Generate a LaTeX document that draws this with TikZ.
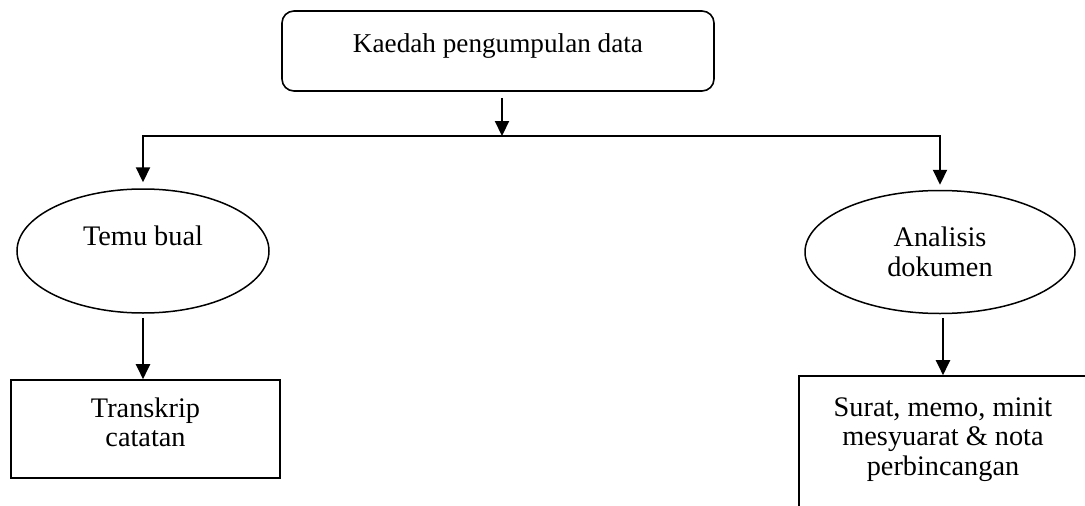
\documentclass[tikz,border=0pt]{standalone}
\usepackage{fontspec}
\setmainfont{Liberation Serif}
\usetikzlibrary{arrows.meta,shapes.geometric}
\tikzset{
  txt/.style={font=\fontsize{28.3}{29.5}\selectfont, text=black},
  topbox/.style={txt, draw, line width=1.6pt, rounded corners=12pt, minimum width=432pt, minimum height=80pt, inner sep=0pt, text height=19pt, text depth=17pt},
  oval/.style={txt, draw, ellipse, line width=1.5pt, inner sep=0pt, align=center},
  sqbox/.style={txt, draw, line width=1.6pt, inner sep=0pt},
  arr/.style={line width=2.2pt, -{Triangle[width=14pt,length=15pt]}},
}
\begin{document}
\begin{tikzpicture}[x=1pt,y=-1pt]
\useasboundingbox (0,0) rectangle (1085,506);
\clip (0,0) rectangle (1085,506);
\fill[white] (0,0) rectangle (1085,506);

\node[topbox] (top) at (498,51) {\fontsize{27.2}{29.5}\selectfont Kaedah pengumpulan data};
\coordinate (junction) at (502,136);

\node[oval, minimum width=252pt, minimum height=124pt, text height=18pt, text depth=30pt] (temu) at (143,251) {Temu bual};
\node[oval, minimum width=270pt, minimum height=123pt] (ana) at (940,252) {Analisis\\dokumen};

\node[sqbox] (trans) at (145.5,429) {\parbox[c][98pt][t]{269pt}{\centering\rule{0pt}{37pt}Transkrip\\catatan}};
\node[sqbox] (surat) at (943,448) {\parbox[c][144pt][t]{288pt}{\centering\rule{0pt}{40pt}Surat, memo, minit\\mesyuarat \& nota\\perbincangan}};

\draw[arr, shorten <=6pt] (top.south -| junction) -- (junction);
\draw[arr, shorten >=6pt] (junction) -| (temu.north);
\draw[arr, shorten >=5pt] (junction) -| (ana.north);
\draw[arr, shorten <=4pt] (temu.south) -- (temu.south |- trans.north);
\draw[arr, shorten <=4pt] (ana.south -| surat.north) -- (surat.north);
\end{tikzpicture}
\end{document}
